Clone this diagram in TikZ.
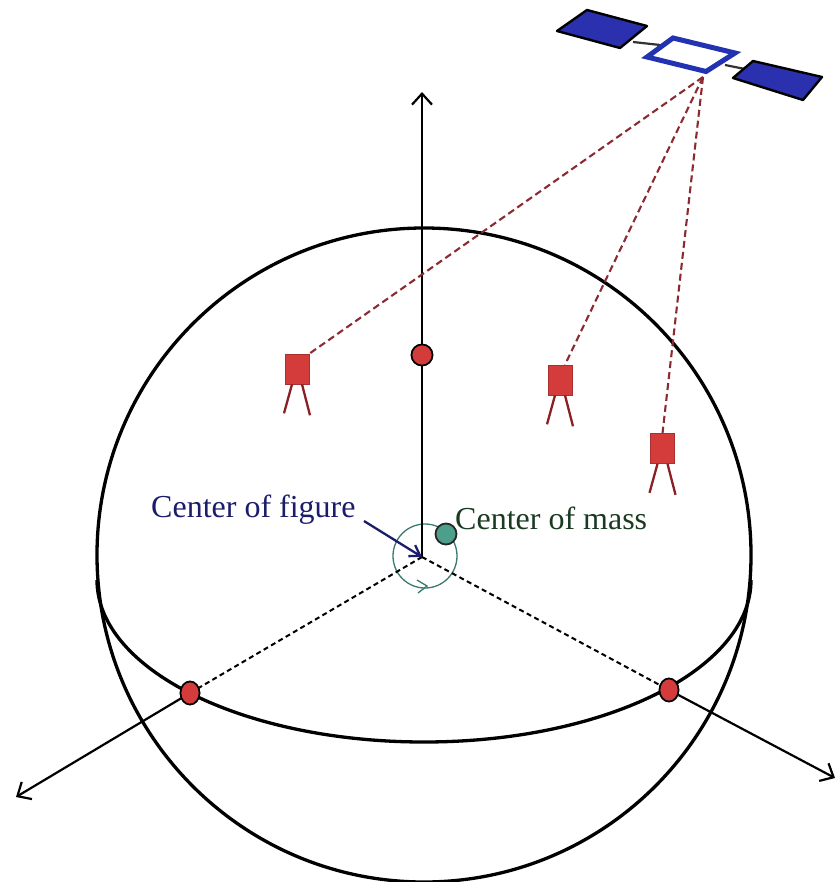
\documentclass[tikz,border=0pt]{standalone}
\usepackage{fontspec}
\setmainfont{Liberation Serif}
\usetikzlibrary{arrows.meta,shapes.geometric}

\definecolor{stationred}{HTML}{D43C3C}
\definecolor{legred}{HTML}{8A1F24}
\definecolor{linkred}{HTML}{8B2A30}
\definecolor{panelblue}{HTML}{2B30AE}
\definecolor{bodyblue}{HTML}{2232B0}
\definecolor{navytext}{HTML}{1C1C6C}
\definecolor{massgreen}{HTML}{4E9E8C}
\definecolor{orbitgreen}{HTML}{3A7A6E}
\definecolor{masstext}{HTML}{1A3A22}

\tikzset{
  axis/.style={line width=2.2pt, black},
  axisarrow/.style={axis, -{Straight Barb[length=11pt,width=20pt,line width=2.2pt]}},
  hidden/.style={line width=2pt, black, dash pattern=on 5pt off 3.5pt},
  sphere/.style={line width=3.3pt, black},
  reddot/.style={circle, draw=black, line width=1.6pt, fill=stationred, inner sep=0pt, minimum size=21pt},
  eqdot/.style={ellipse, draw=black, line width=1.6pt, fill=stationred, inner sep=0pt, minimum width=19pt, minimum height=23pt},
  stationbox/.style={rectangle, fill=stationred, draw=stationred!80!black, line width=0.6pt, inner sep=0pt, minimum width=24pt, minimum height=30pt},
  leg/.style={line width=2.3pt, legred},
  link/.style={line width=2.1pt, linkred, dash pattern=on 7pt off 4pt},
  panel/.style={fill=panelblue, draw=black, line width=2.4pt, line join=round},
  label/.style={font=\fontsize{32}{38}\selectfont, inner sep=0pt, anchor=base west}
}

\begin{document}
\begin{tikzpicture}[x=1pt, y=-1pt]
\useasboundingbox (0,0) rectangle (837,882);

% key points
\coordinate (O) at (422,557);
\coordinate (ztop) at (422,92);
\coordinate (xleft) at (16,797);
\coordinate (xright) at (835,778);
\coordinate (sat) at (703,77);

% sphere outline and front half of the equator
\draw[sphere] (424,555) circle [radius=327];
\draw[sphere] (97,580) arc [start angle=180, end angle=0, x radius=327, y radius=162];

% small rotation circle about the centre
\draw[orbitgreen, line width=1.3pt] (425,556) circle [radius=32];
\draw[orbitgreen, line width=1.3pt] (417,580) -- (427,586) -- (418,593);

% axes
\node[reddot] (pole) at (422,355) {};
\node[eqdot] (eqL) at (190,693) {};
\node[eqdot] (eqR) at (669,690) {};
\draw[axisarrow] (O) -- (ztop);
\draw[hidden] (O) -- (eqL);
\draw[hidden] (O) -- (eqR);
\draw[axisarrow] (eqL) -- (xleft);
\draw[axisarrow] (eqR) -- (xright);
\node[reddot] at (pole) {};
\node[eqdot] at (eqL) {};
\node[eqdot] at (eqR) {};

% ground stations
\node[stationbox] (st1) at (297,369) {};
\node[stationbox] (st2) at (560,380) {};
\node[stationbox] (st3) at (662.5,448.5) {};
\foreach \s in {st1,st2,st3} {
  \draw[leg] ([xshift=-5pt]\s.south) -- ++(-8,29);
  \draw[leg] ([xshift=5pt]\s.south) -- ++(8,31);
}

% satellite links
\draw[link] (sat) -- (st1.north east);
\draw[link] (sat) -- ([xshift=5pt]st2.north);
\draw[link] (sat) -- (st3.north);

% satellite
\draw[line width=2.2pt, black!80] (633,42) -- (660,45);
\draw[line width=2.2pt, black!80] (725,65) -- (750,70);
\filldraw[panel] (557,31) -- (587,10) -- (647,26) -- (620,48) -- cycle;
\filldraw[panel] (733,78) -- (753,61) -- (822,77) -- (803,100) -- cycle;
\filldraw[fill=white, draw=bodyblue, line width=5pt, line join=miter] (647,57) -- (673,38) -- (735,53) -- (706,71.5) -- cycle;

% centre of mass
\node[circle, draw=black!85, line width=1.8pt, fill=massgreen, inner sep=0pt, minimum size=21pt] (cm) at (446,534) {};
\node[label, text=masstext] (cmtext) at (455,529) {Center of mass};

% centre of figure
\node[label, text=navytext] (cftext) at (151,517) {Center of figure};
\coordinate (cfstart) at (364,521);
\draw[navytext, line width=2.3pt, -{Straight Barb[length=10pt,width=13pt,line width=2.3pt]}] (cfstart) -- (O);

\end{tikzpicture}
\end{document}
